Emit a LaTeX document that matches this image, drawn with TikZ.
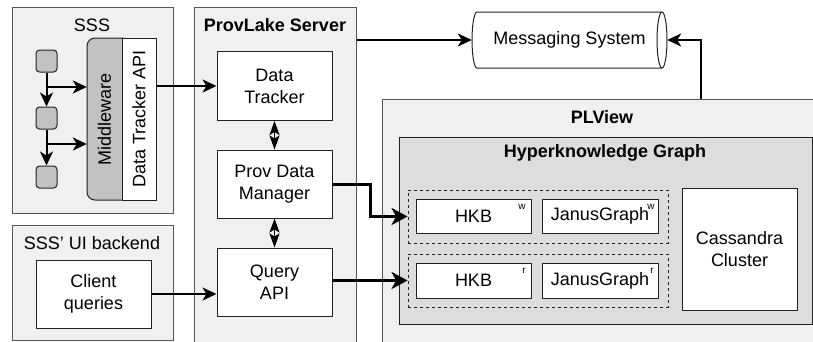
\documentclass[tikz,border=0pt]{standalone}
\usepackage{fontspec}
\setmainfont{Liberation Sans}
\usetikzlibrary{arrows.meta}
\definecolor{bord}{HTML}{555555}
\definecolor{lite}{HTML}{F0F0F0}
\definecolor{midg}{HTML}{DDDDDD}
\definecolor{darkg}{HTML}{C2C2C2}
\definecolor{lin}{HTML}{222222}
\begin{document}
\begin{tikzpicture}[x=1pt,y=-1pt,
  font=\fontsize{18}{22}\selectfont,
  container/.style={draw=bord, fill=lite, line width=0.9pt, anchor=north west, inner sep=0},
  box/.style={draw=lin, fill=white, line width=1pt, align=center, inner sep=0},
  sq/.style={draw=lin, fill=darkg, line width=1pt, rounded corners=3.5pt, minimum width=21, minimum height=22, inner sep=0},
  grp/.style={draw=lin, dashed, line width=0.9pt, inner sep=0},
  arr/.style={-{Stealth[length=14pt,width=13pt,inset=4pt]}, line width=2pt, draw=black},
  tarr/.style={-{Stealth[length=16pt,width=17pt,inset=4.5pt]}, line width=3pt, draw=black},
  darr/.style={{Stealth[length=14pt,width=10pt,inset=3pt]}-{Stealth[length=14pt,width=10pt,inset=3pt]}, line width=1.6pt, draw=black},
  ttl/.style={font=\fontsize{18}{22}\selectfont\bfseries},
  sup/.style={font=\fontsize{10}{12}\selectfont, inner sep=0}]
\useasboundingbox (0,0) rectangle (813,341);
% containers
\node[container, minimum width=161, minimum height=206] (sss) at (12,7) {};
\node[container, minimum width=161, minimum height=114.5] (ui) at (12,225) {};
\node[container, minimum width=162, minimum height=340] (server) at (194,7) {};
\node[container, minimum width=440, minimum height=250] (plview) at (382,99) {};
\node[container, fill=midg, draw=lin, minimum width=413, minimum height=187] (hkg) at (399,137) {};
% titles
\node (tsss) at (92,25) {SSS};
\node (tui) at (92,243) {SSS' UI backend};
\node[ttl] (tserver) at (275,25) {ProvLake Server};
\node[ttl] (tpl) at (602,117) {PLView};
\node[ttl] (thkg) at (605,153) {Hyperknowledge Graph};
% SSS internals
\node[sq] (sq1) at (46.5,61) {};
\node[sq] (sq2) at (46.5,118) {};
\node[sq] (sq3) at (46.5,177) {};
\path[fill=darkg, draw=lin, line width=1pt, rounded corners=8pt] (87,38) rectangle (130,200);
\node[inner sep=0, minimum width=35, minimum height=162] (mw) at (104.5,119) {\rotatebox{90}{Middleware}};
\node[box, minimum width=34, minimum height=162] (dtapi) at (139,119) {\rotatebox{90}{Data Tracker API}};
\coordinate (b1) at (46.5,87);
\coordinate (b2) at (46.5,144);
\draw[arr] (sq1) -- (sq2);
\draw[arr] (sq2) -- (sq3);
\draw[arr] (b1) -- (b1 -| mw.west);
\draw[arr] (b2) -- (b2 -| mw.west);
% UI backend
\node[box, minimum width=115, minimum height=68] (cq) at (93.5,294) {Client\\queries};
% server
\node[box, minimum width=115, minimum height=69] (dt) at (274.5,86) {Data\\Tracker};
\node[box, minimum width=115, minimum height=68] (pdm) at (274.5,184) {Prov Data\\Manager};
\node[box, minimum width=115, minimum height=68] (qapi) at (274.5,282) {Query\\API};
\draw[darr] (dt.south) -- (pdm.north);
\draw[darr] (pdm.south) -- (qapi.north);
% messaging system
\node[inner sep=0, minimum width=195, minimum height=56] (msg) at (569.5,40) {Messaging System};
\draw[draw=lin, line width=1pt, fill=white]
  (477,12) -- (662,12) arc[start angle=-90, end angle=90, x radius=5, y radius=28]
  -- (477,68) arc[start angle=90, end angle=270, x radius=5, y radius=28] -- cycle;
\draw[draw=lin, line width=1pt] (662,12) arc[start angle=270, end angle=90, x radius=5, y radius=28];
\node[inner sep=0] at (msg) {Messaging System};
% PLView internals
\node[grp, minimum width=260, minimum height=53] (gw) at (538,216.5) {};
\node[grp, minimum width=260, minimum height=53] (gr) at (538,280.5) {};
\node[box, minimum width=115, minimum height=34] (hkbw) at (473.5,216) {HKB};
\node[box, minimum width=116, minimum height=34] (jgw) at (600,216) {JanusGraph};
\node[box, minimum width=115, minimum height=35] (hkbr) at (473.5,280.5) {HKB};
\node[box, minimum width=116, minimum height=35] (jgr) at (600,280.5) {JanusGraph};
\node[box, minimum width=115, minimum height=122] (cass) at (739.5,249) {Cassandra\\Cluster};
\node[sup] (swa) at (522,207) {w};
\node[sup] (swb) at (651,207) {w};
\node[sup] (sra) at (524,271) {r};
\node[sup] (srb) at (652,271) {r};
% connectors
\draw[arr] (dtapi.east |- dt.west) -- (dt.west);
\draw[arr] (cq.east) -- (cq.east -| qapi.west);
\draw[arr] (server.north east |- msg.west) -- (msg.west);
\coordinate (pltop) at (701,99);
\draw[arr] (pltop) |- (msg.east);
\draw[tarr] (pdm.east) -- (370,184) |- (gw.west);
\draw[tarr] (qapi.east |- gr.west) -- (gr.west);
\end{tikzpicture}
\end{document}
